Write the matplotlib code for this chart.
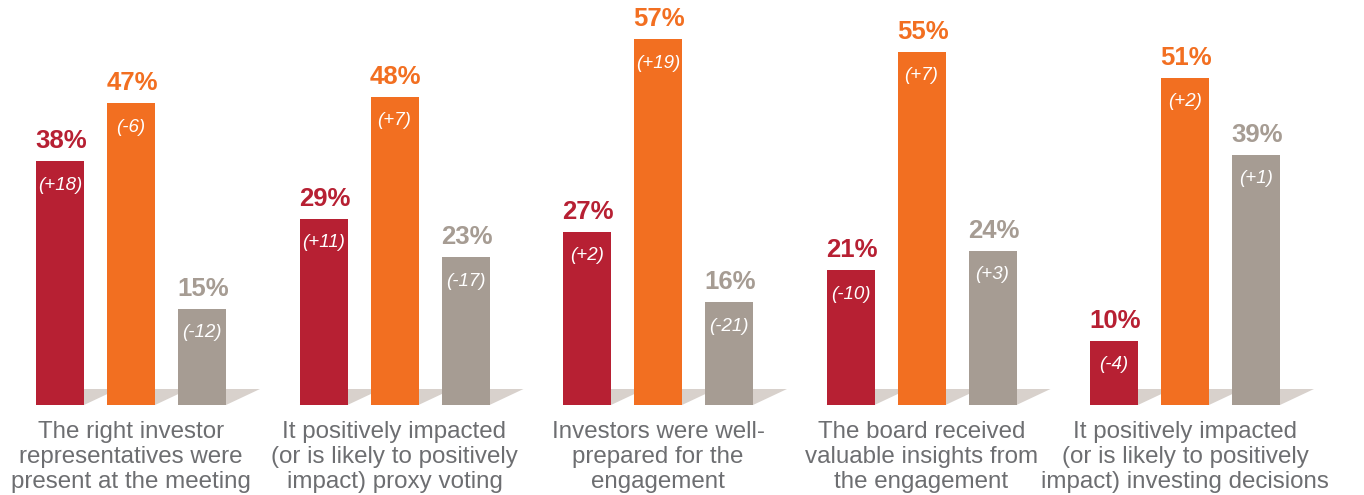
import matplotlib
matplotlib.use("Agg")
import matplotlib.pyplot as plt
from matplotlib.patches import Polygon

categories = [
    "The right investor\nrepresentatives were\npresent at the meeting",
    "It positively impacted\n(or is likely to positively\nimpact) proxy voting",
    "Investors were well-\nprepared for the\nengagement",
    "The board received\nvaluable insights from\nthe engagement",
    "It positively impacted\n(or is likely to positively\nimpact) investing decisions",
]
series_red = [38, 29, 27, 21, 10]
series_orange = [47, 48, 57, 55, 51]
series_gray = [15, 23, 16, 24, 39]
delta_red = ["(+18)", "(+11)", "(+2)", "(-10)", "(-4)"]
delta_orange = ["(-6)", "(+7)", "(+19)", "(+7)", "(+2)"]
delta_gray = ["(-12)", "(-17)", "(-21)", "(+3)", "(+1)"]

colors = ["#B72033", "#F26F21", "#A69C93"]
shadow_color = "#D8D1CC"
text_gray = "#6D6E71"

W, H = 1364, 495
fig = plt.figure(figsize=(W / 100, H / 100), dpi=100)
base_px = 405
px_per_pct = 6.42
ax = fig.add_axes([0, (H - base_px) / H, 1, base_px / H])
ax.set_xlim(0, W)
ax.set_ylim(0, base_px / px_per_pct)
ax.axis("off")

group_spacing = 263.5
first_center = 131
offsets = [-71, 0, 71]
bw = 48
sdx = 34
sdy = 16 / px_per_pct

plt.rcParams["font.family"] = ["Liberation Sans", "DejaVu Sans"]

all_series = [series_red, series_orange, series_gray]
all_deltas = [delta_red, delta_orange, delta_gray]

for g, cat in enumerate(categories):
    gc = first_center + group_spacing * g
    for s in range(3):
        xc = gc + offsets[s]
        x0 = xc - bw / 2
        poly = Polygon([(x0, 0), (x0 + bw, 0), (x0 + bw + sdx, sdy), (x0 + sdx, sdy)],
                       closed=True, facecolor=shadow_color, edgecolor="none", zorder=1)
        ax.add_patch(poly)
    for s in range(3):
        xc = gc + offsets[s]
        v = all_series[s][g]
        ax.bar(xc, v, width=bw, color=colors[s], zorder=2)
        ax.annotate(f"{v}%", (xc, v), xytext=(1, 8), textcoords="offset pixels",
                    ha="center", va="bottom", fontsize=18.5, fontweight="bold",
                    color=colors[s], zorder=3)
        ax.annotate(all_deltas[s][g], (xc, v), xytext=(0, -24), textcoords="offset pixels",
                    ha="center", va="center", fontsize=13.5, fontstyle="italic",
                    color="white", zorder=3)
    fig.text(gc / W, 1 - 421 / H, cat, ha="center", va="top", fontsize=17.4,
             color=text_gray, linespacing=1.17)

fig.savefig("out.png", dpi=100)
